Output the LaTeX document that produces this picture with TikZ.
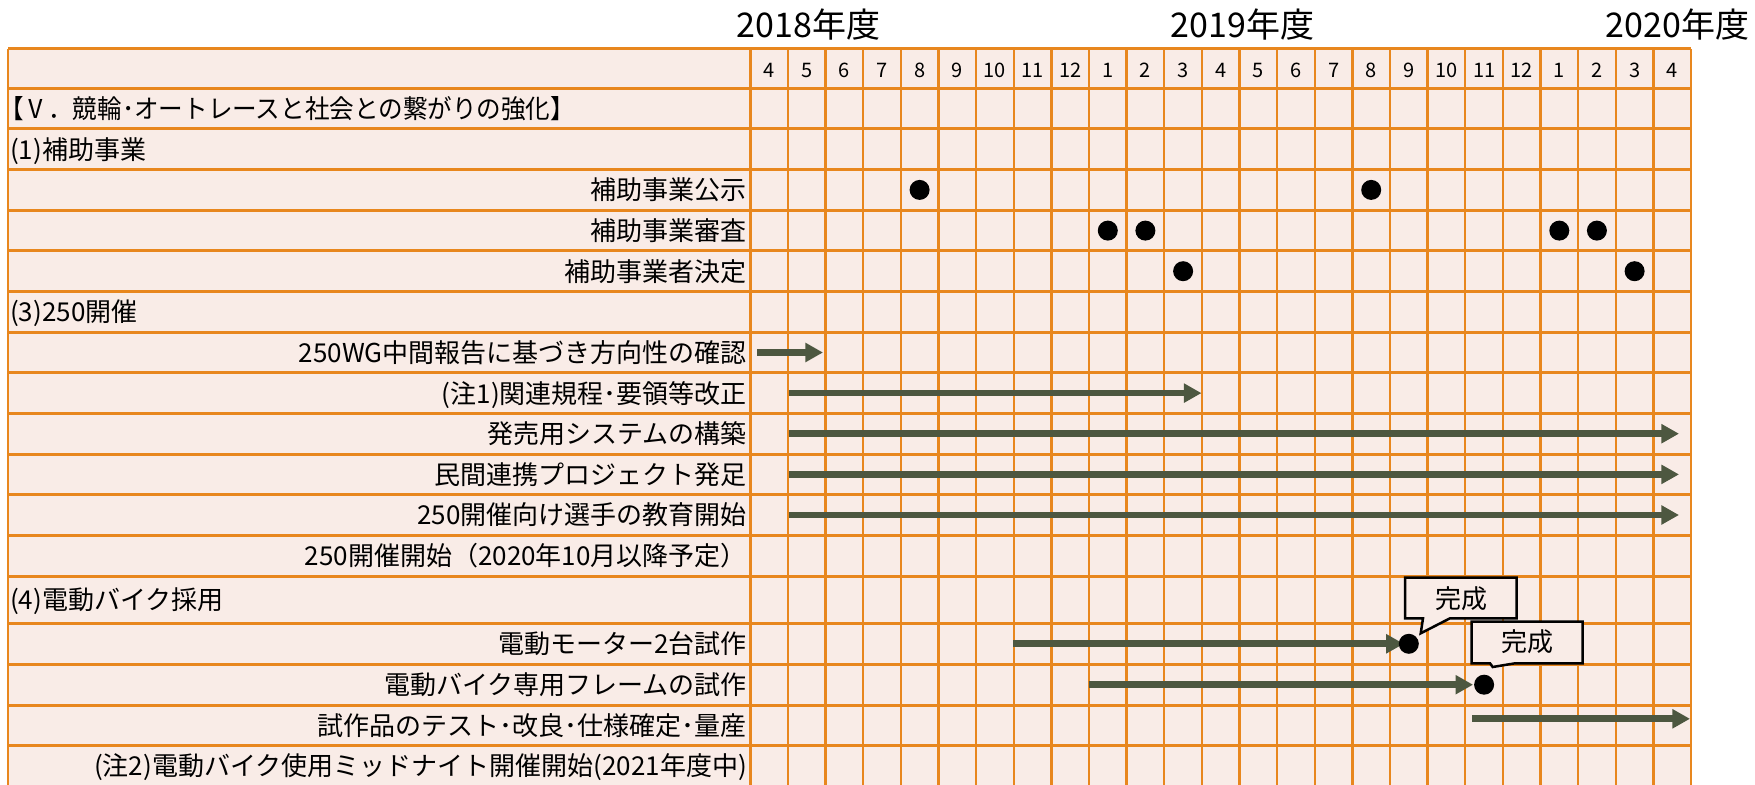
\documentclass[tikz,border=0pt]{standalone}
\usepackage{fontspec}
\setmainfont{Noto Sans CJK JP}
\usetikzlibrary{arrows.meta}
\definecolor{cellfill}{HTML}{F9ECE7}
\definecolor{gridline}{HTML}{E8871E}
\definecolor{arrowc}{HTML}{4D5740}
\begin{document}
\begin{tikzpicture}[x=1pt,y=-1pt,
  lbl/.style={inner sep=0pt, font=\fontsize{26}{30}\selectfont, text height=21.6pt, text depth=1.8pt},
  yr/.style={inner sep=0pt, font=\fontsize{34}{39}\selectfont, text height=28.2pt, text depth=2.4pt},
  mon/.style={inner sep=0pt, font=\fontsize{20}{24}\selectfont, text height=16.6pt, text depth=1.4pt},
  gridh/.style={draw=gridline, line width=3pt},
  gridv/.style={draw=gridline, line width=2.4pt},
  dot/.style={circle, fill=black, minimum size=20pt, inner sep=0pt},
  bar/.style={draw=arrowc, line width=6.7pt, -{Triangle[length=17.6pt,width=18.3pt]}},
  callout/.style={draw=black, fill=cellfill, line width=2.5pt, line join=miter}]
\useasboundingbox (0,0) rectangle (1755,784);
\clip (0,0) rectangle (1755,784);
% table background
\fill[cellfill] (8,49) rectangle (1691,792);
% horizontal lines
\foreach \yy in {49,88.3,128.9,169.6,210.2,250.9,291.5,332.1,372.8,413.4,454.1,494.7,535.3,576,623.3,664.3,705,745.7}
  \draw[gridh] (8,\yy) -- (1691,\yy);
% vertical lines
\draw[gridv] (8,49) -- (8,792);
\foreach \k in {0,...,25}
  \draw[gridv] ({750.3+37.63*\k},49) -- ({750.3+37.63*\k},792);
% year labels
\node[yr] (y2018) at (808.5,25) {2018年度};
\node[yr] (y2019) at (1242.5,25) {2019年度};
\node[yr] (y2020) at (1677.5,25) {2020年度};
% month header
\foreach \m [count=\i from 0] in {4,5,6,7,8,9,10,11,12,1,2,3,4,5,6,7,8,9,10,11,12,1,2,3,4}
  \node[mon] (m\i) at ({750.3+37.63*(\i+0.5)},70) {\m};
% row labels
\node[lbl, anchor=west] (r1) at (-1,108.6) {\scalebox{0.945}[1]{【Ⅴ．競輪･オートレースと社会との繋がりの強化】}};
\node[lbl, anchor=west] (r2) at (10,149.3) {(1)補助事業};
\node[lbl, anchor=east] (r3) at (747,189.9) {補助事業公示};
\node[lbl, anchor=east] (r4) at (747,230.6) {補助事業審査};
\node[lbl, anchor=east] (r5) at (747,271.2) {補助事業者決定};
\node[lbl, anchor=west] (r6) at (10,311.8) {(3)250開催};
\node[lbl, anchor=east] (r7) at (747,352.5) {250WG中間報告に基づき方向性の確認};
\node[lbl, anchor=east] (r8) at (747,393.1) {(注1)関連規程･要領等改正};
\node[lbl, anchor=east] (r9) at (747,433.7) {発売用システムの構築};
\node[lbl, anchor=east] (r10) at (747,474.4) {民間連携プロジェクト発足};
\node[lbl, anchor=east] (r11) at (747,515) {250開催向け選手の教育開始};
\node[lbl, anchor=east] (r12) at (747,555.7) {250開催開始（2020年10月以降予定）};
\node[lbl, anchor=west] (r13) at (10,599.7) {(4)電動バイク採用};
\node[lbl, anchor=east] (r14) at (747,643.8) {電動モーター2台試作};
\node[lbl, anchor=east] (r15) at (747,684.7) {電動バイク専用フレームの試作};
\node[lbl, anchor=east] (r16) at (747,725.4) {試作品のテスト･改良･仕様確定･量産};
\node[lbl, anchor=east] (r17) at (747,766) {(注2)電動バイク使用ミッドナイト開催開始(2021年度中)};
% milestone dots (upper rows)
\node[dot] (p1) at (919.6,189.9) {};
\node[dot] (p2) at (1371.2,189.9) {};
\node[dot] (s1) at (1107.8,230.6) {};
\node[dot] (s2) at (1145.4,230.6) {};
\node[dot] (s3) at (1559.3,230.6) {};
\node[dot] (s4) at (1596.9,230.6) {};
\node[dot] (k1) at (1183.1,271.2) {};
\node[dot] (k2) at (1634.6,271.2) {};
% arrows
\coordinate (a1s) at (757,352.5);  \coordinate (a1e) at (823,352.5);
\coordinate (a2s) at (789,393.1);  \coordinate (a2e) at (1201.5,393.1);
\coordinate (a3s) at (789,433.7);  \coordinate (a3e) at (1679,433.7);
\coordinate (a4s) at (789,474.4);  \coordinate (a4e) at (1679,474.4);
\coordinate (a5s) at (789,515);    \coordinate (a5e) at (1679,515);
\coordinate (a6s) at (1013.3,643.8);
\coordinate (a7s) at (1088.6,684.7);
\coordinate (a8s) at (1472,718.8); \coordinate (a8e) at (1690,718.8);
\draw[bar] (a1s) -- (a1e);
\draw[bar] (a2s) -- (a2e);
\draw[bar] (a3s) -- (a3e);
\draw[bar] (a4s) -- (a4e);
\draw[bar] (a5s) -- (a5e);
\coordinate (e1) at (1408.8,643.8);
\coordinate (e2) at (1484.1,684.7);
\draw[bar, shorten >=5pt] (a6s) -- (e1);
\draw[bar, shorten >=11pt] (a7s) -- (e2);
\node[dot] (d1) at (e1) {};
\node[dot] (d2) at (e2) {};
\draw[bar] (a8s) -- (a8e);
% callouts
\draw[callout] (1405,577.7) -- (1516.7,577.7) -- (1516.7,618.3) -- (1450,618.3) -- (1420.7,633.3) -- (1423,618.3) -- (1405,618.3) -- cycle;
\node[lbl] (c1) at (1461.7,598.3) {完成};
\draw[callout] (1471.7,621.7) -- (1582.7,621.7) -- (1582.7,663.3) -- (1515,663.3) -- (1492.7,667) -- (1490,663.3) -- (1471.7,663.3) -- cycle;
\node[lbl] (c2) at (1527.5,641.7) {完成};
\end{tikzpicture}
\end{document}
